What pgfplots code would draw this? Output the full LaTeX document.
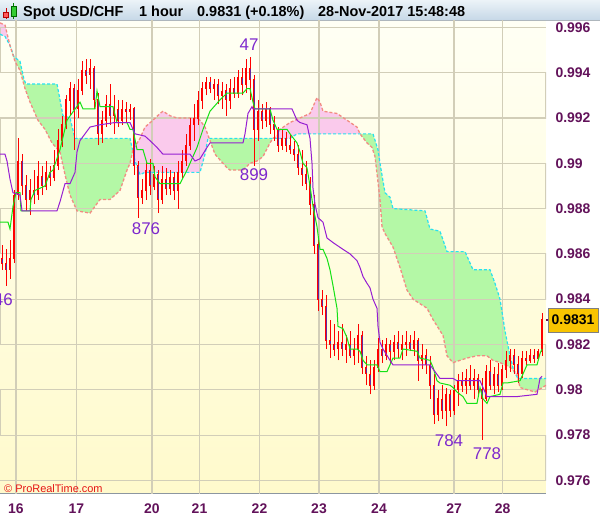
\documentclass[border=0pt]{standalone}
\usepackage{pgfplots}
\pgfplotsset{compat=1.18}
\usepackage{pgfplotstable}
\usepgfplotslibrary{fillbetween}
\usepackage{fontspec}
\setmainfont{Liberation Sans}
\definecolor{ticklab}{RGB}{98,18,90}
\definecolor{gridc}{RGB}{210,206,184}
\definecolor{bgtop}{RGB}{255,255,244}
\definecolor{bgbot}{RGB}{255,250,204}
\definecolor{cloudgreen}{RGB}{180,248,166}
\definecolor{cloudpink}{RGB}{250,202,236}
\definecolor{spanAc}{RGB}{40,225,240}
\definecolor{spanBc}{RGB}{242,140,130}
\definecolor{tenkan}{RGB}{20,225,20}
\definecolor{kijun}{RGB}{150,30,210}
\definecolor{bodyin}{RGB}{100,40,160}
\definecolor{annot}{RGB}{125,40,205}
\definecolor{framec}{RGB}{140,150,160}
\definecolor{titletop}{RGB}{236,243,248}
\definecolor{titlebot}{RGB}{198,216,231}
\definecolor{pricebox}{RGB}{248,196,0}
\definecolor{prtred}{RGB}{230,20,20}

\pgfplotstableread{
x o h l c
2 0.9858 0.9864 0.9853 0.9856
6 0.9856 0.9862 0.9846 0.9853
10 0.9853 0.9866 0.9849 0.9858
14 0.9858 0.9888 0.9856 0.9886
18 0.9886 0.9911 0.9884 0.9901
22 0.9901 0.9904 0.9886 0.9890
26 0.9890 0.9895 0.9879 0.9884
30 0.9884 0.9893 0.9877 0.9888
34 0.9888 0.9897 0.9882 0.9886
38 0.9886 0.9901 0.9884 0.9894
42 0.9894 0.9899 0.9886 0.9890
46 0.9890 0.9901 0.9888 0.9896
50 0.9896 0.9899 0.9890 0.9894
54 0.9894 0.9906 0.9892 0.9899
58 0.9899 0.9915 0.9897 0.9910
62 0.9910 0.9921 0.9907 0.9917
66 0.9917 0.9930 0.9915 0.9928
70 0.9928 0.9936 0.9921 0.9933
74 0.9933 0.9935 0.9906 0.9924
78 0.9924 0.9937 0.9920 0.9932
82 0.9932 0.9945 0.9930 0.9941
86 0.9941 0.9946 0.9935 0.9939
90 0.9939 0.9946 0.9933 0.9942
94 0.9942 0.9943 0.9924 0.9928
98 0.9928 0.9931 0.9908 0.9913
102 0.9913 0.9923 0.9909 0.9919
106 0.9919 0.9930 0.9916 0.9926
110 0.9926 0.9935 0.9917 0.9921
114 0.9921 0.9930 0.9913 0.9924
118 0.9924 0.9928 0.9916 0.9919
122 0.9919 0.9928 0.9917 0.9924
126 0.9924 0.9927 0.9918 0.9923
130 0.9923 0.9926 0.9919 0.9924
134 0.9924 0.9925 0.9895 0.9899
138 0.9899 0.9901 0.9876 0.9885
142 0.9885 0.9893 0.9882 0.9888
146 0.9888 0.9901 0.9884 0.9897
150 0.9897 0.9902 0.9886 0.9890
154 0.9890 0.9899 0.9888 0.9895
158 0.9895 0.9897 0.9878 0.9884
162 0.9884 0.9899 0.9882 0.9893
166 0.9893 0.9898 0.9886 0.9889
170 0.9889 0.9897 0.9886 0.9894
174 0.9894 0.9896 0.9884 0.9888
178 0.9888 0.9901 0.9880 0.9896
182 0.9896 0.9906 0.9893 0.9901
186 0.9901 0.9913 0.9899 0.9908
190 0.9908 0.9920 0.9906 0.9917
194 0.9917 0.9926 0.9910 0.9920
198 0.9920 0.9932 0.9917 0.9928
202 0.9928 0.9936 0.9924 0.9933
206 0.9933 0.9938 0.9930 0.9936
210 0.9936 0.9938 0.9931 0.9933
214 0.9933 0.9937 0.9928 0.9935
218 0.9935 0.9937 0.9926 0.9930
222 0.9930 0.9936 0.9924 0.9932
226 0.9932 0.9935 0.9921 0.9928
230 0.9928 0.9937 0.9924 0.9933
234 0.9933 0.9938 0.9929 0.9931
238 0.9931 0.9941 0.9929 0.9938
242 0.9938 0.9942 0.9930 0.9935
246 0.9935 0.9946 0.9931 0.9942
250 0.9942 0.9947 0.9928 0.9937
254 0.9937 0.9939 0.9899 0.9915
258 0.9915 0.9928 0.9910 0.9923
262 0.9923 0.9926 0.9915 0.9919
266 0.9919 0.9927 0.9916 0.9924
270 0.9924 0.9925 0.9913 0.9917
274 0.9917 0.9921 0.9910 0.9915
278 0.9915 0.9916 0.9905 0.9908
282 0.9908 0.9915 0.9906 0.9911
286 0.9911 0.9914 0.9905 0.9908
290 0.9908 0.9913 0.9904 0.9906
294 0.9906 0.9910 0.9901 0.9904
298 0.9904 0.9908 0.9895 0.9898
302 0.9898 0.9906 0.9890 0.9895
306 0.9895 0.9901 0.9888 0.9891
310 0.9891 0.9894 0.9877 0.9882
314 0.9882 0.9886 0.9860 0.9864
318 0.9864 0.9866 0.9835 0.9840
322 0.9840 0.9844 0.9833 0.9837
326 0.9837 0.9842 0.9818 0.9822
330 0.9822 0.9831 0.9814 0.9820
334 0.9820 0.9829 0.9815 0.9818
338 0.9818 0.9826 0.9813 0.9821
342 0.9821 0.9829 0.9815 0.9818
346 0.9818 0.9824 0.9812 0.9820
350 0.9820 0.9826 0.9814 0.9815
354 0.9815 0.9823 0.9811 0.9818
358 0.9818 0.9829 0.9812 0.9824
362 0.9824 0.9826 0.9807 0.9810
366 0.9810 0.9815 0.9802 0.9807
370 0.9807 0.9813 0.9798 0.9802
374 0.9802 0.9813 0.9800 0.9810
378 0.9810 0.9823 0.9808 0.9818
382 0.9818 0.9822 0.9812 0.9815
386 0.9815 0.9823 0.9813 0.9820
390 0.9820 0.9822 0.9812 0.9817
394 0.9817 0.9824 0.9813 0.9821
398 0.9821 0.9826 0.9814 0.9818
402 0.9818 0.9824 0.9813 0.9820
406 0.9820 0.9826 0.9815 0.9821
410 0.9821 0.9824 0.9817 0.9818
414 0.9818 0.9826 0.9815 0.9822
418 0.9822 0.9823 0.9804 0.9813
422 0.9813 0.9820 0.9809 0.9815
426 0.9815 0.9818 0.9807 0.9811
430 0.9811 0.9815 0.9796 0.9802
434 0.9802 0.9807 0.9785 0.9789
438 0.9789 0.9800 0.9786 0.9796
442 0.9796 0.9802 0.9787 0.9791
446 0.9791 0.9801 0.9784 0.9798
450 0.9798 0.9800 0.9788 0.9791
454 0.9791 0.9802 0.9789 0.9800
458 0.9800 0.9807 0.9793 0.9804
462 0.9804 0.9808 0.9799 0.9802
466 0.9802 0.9809 0.9798 0.9805
470 0.9805 0.9811 0.9800 0.9802
474 0.9802 0.9809 0.9796 0.9805
478 0.9805 0.9807 0.9798 0.9800
482 0.9800 0.9805 0.9778 0.9796
486 0.9796 0.9811 0.9795 0.9808
490 0.9808 0.9813 0.9800 0.9802
494 0.9802 0.9810 0.9798 0.9807
498 0.9807 0.9812 0.9799 0.9802
502 0.9802 0.9811 0.9800 0.9809
506 0.9809 0.9817 0.9805 0.9813
510 0.9813 0.9818 0.9808 0.9815
514 0.9815 0.9818 0.9807 0.9811
518 0.9811 0.9815 0.9803 0.9807
522 0.9807 0.9817 0.9805 0.9814
526 0.9814 0.9817 0.9811 0.9813
530 0.9813 0.9818 0.9812 0.9815
534 0.9815 0.9818 0.9812 0.9814
538 0.9814 0.9818 0.9813 0.9817
542 0.9817 0.9834 0.9815 0.9831
}\candles

\pgfplotstableread{
x y
0 0.9957
5 0.9956
10 0.9952
14 0.9947
20 0.9945
24 0.9937
26 0.9935
57 0.9935
60 0.9928
63 0.9921
70 0.9920
75 0.9911
130 0.9911
135 0.9901
140 0.9895
145 0.9896
200 0.9896
205 0.9904
208 0.9911
290 0.9911
297 0.9913
373 0.9913
378 0.9906
380 0.9900
385 0.9887
390 0.9885
393 0.9880
425 0.9879
430 0.9871
440 0.9870
447 0.9861
465 0.9861
473 0.9853
490 0.9853
495 0.9847
500 0.9840
505 0.9826
510 0.9815
514 0.9808
518 0.9805
546 0.9805
}\spanA

\pgfplotstableread{
x y
0 0.9962
5 0.9961
10 0.9952
15 0.9945
20 0.9941
25 0.9933
30 0.9927
38 0.9919
45 0.9915
52 0.9909
60 0.9905
65 0.9895
70 0.9886
77 0.9879
90 0.9878
100 0.9884
110 0.9884
120 0.9888
127 0.9897
130 0.9900
133 0.9906
140 0.9911
145 0.9916
153 0.9919
160 0.9922
163 0.9923
170 0.9921
177 0.9920
197 0.9920
200 0.9919
205 0.9916
210 0.9910
215 0.9904
223 0.9900
227 0.9898
230 0.9897
243 0.9897
250 0.9900
257 0.9901
263 0.9903
270 0.9909
273 0.9911
277 0.9912
280 0.9915
290 0.9918
300 0.9920
310 0.9922
313 0.9925
317 0.9929
320 0.9927
323 0.9923
337 0.9922
347 0.9919
357 0.9916
360 0.9913
367 0.9909
372 0.9907
375 0.9903
380 0.9884
382 0.9872
385 0.9869
393 0.9863
400 0.9854
407 0.9844
413 0.9840
427 0.9836
433 0.9831
443 0.9824
447 0.9815
453 0.9812
460 0.9813
467 0.9814
477 0.9815
487 0.9815
493 0.9813
500 0.9812
510 0.9810
517 0.9807
520 0.9801
535 0.9799
546 0.9802
}\spanB

\pgfplotstableread{
x y
0 0.9874
8 0.9874
10 0.9871
13 0.9881
16 0.9887
20 0.9887
21 0.9879
30 0.9879
31 0.9884
35 0.9888
45 0.9890
50 0.9896
53 0.9897
60 0.9906
67 0.9919
80 0.9927
83 0.9924
95 0.9924
97 0.9932
100 0.9925
113 0.9925
117 0.9918
127 0.9918
130 0.9915
133 0.9915
137 0.9906
143 0.9906
147 0.9900
153 0.9900
155 0.9894
160 0.9891
180 0.9891
187 0.9897
193 0.9903
197 0.9907
203 0.9915
210 0.9923
220 0.9928
227 0.9931
243 0.9931
247 0.9933
250 0.9933
253 0.9927
255 0.9924
270 0.9924
273 0.9919
277 0.9915
287 0.9915
290 0.9913
297 0.9909
300 0.9905
303 0.9900
307 0.9898
310 0.9890
313 0.9881
317 0.9872
320 0.9862
323 0.9862
327 0.9858
330 0.9853
333 0.9846
337 0.9836
338 0.9828
343 0.9827
347 0.9823
350 0.9818
357 0.9818
360 0.9817
363 0.9813
367 0.9811
377 0.9811
380 0.9808
387 0.9808
390 0.9811
393 0.9814
400 0.9814
403 0.9818
417 0.9817
420 0.9814
430 0.9813
433 0.9810
437 0.9804
440 0.9803
450 0.9802
453 0.9801
457 0.9799
460 0.9798
463 0.9797
467 0.9794
477 0.9794
480 0.9801
483 0.9796
487 0.9794
490 0.9797
500 0.9798
503 0.9803
507 0.9803
520 0.9804
523 0.9807
527 0.9811
537 0.9811
540 0.9816
542 0.9818
}\tenkansen

\pgfplotstableread{
x y
0 0.9904
5 0.9904
7 0.9901
10 0.9893
13 0.9887
20 0.9886
22 0.9879
57 0.9879
60 0.9883
65 0.9891
70 0.9891
75 0.9896
77 0.9905
80 0.9910
85 0.9913
90 0.9916
100 0.9917
115 0.9918
130 0.9918
135 0.9913
145 0.9912
150 0.9910
157 0.9907
163 0.9904
190 0.9904
195 0.9901
200 0.9902
207 0.9907
210 0.9909
243 0.9909
245 0.9913
248 0.9922
252 0.9925
253 0.9924
292 0.9924
297 0.9919
300 0.9918
307 0.9917
310 0.9911
312 0.9900
313 0.9889
315 0.9882
318 0.9876
323 0.9874
327 0.9867
333 0.9865
343 0.9862
350 0.9860
357 0.9857
360 0.9854
363 0.9850
367 0.9847
370 0.9845
373 0.9840
377 0.9836
378 0.9828
380 0.9821
383 0.9818
390 0.9813
393 0.9811
430 0.9811
440 0.9805
453 0.9805
457 0.9804
480 0.9804
487 0.9797
517 0.9797
537 0.9798
540 0.9805
542 0.9806
}\kijunsen

\begin{document}
\begin{tikzpicture}
\fill[white] (546bp,0bp) rectangle (600bp,499bp);
\fill[white] (0bp,0bp) rectangle (546bp,25bp);
\shade[top color=titletop, bottom color=titlebot] (0bp,499bp) rectangle (600bp,519bp);
\draw[framec!70, line width=0.6bp] (0bp,499bp) -- (600bp,499bp);
\begin{axis}[
  at={(0bp,25bp)}, anchor=south west, scale only axis,
  width=546bp, height=474bp,
  xmin=0, xmax=546, ymin=0.975399, ymax=0.996327,
  axis x line*=bottom, axis y line*=right,
  axis line style={framec, line width=1bp},
  axis background/.style={top color=bgtop, bottom color=bgbot},
  xtick={16,76.5,152,199.5,259.5,319,379,454,502.5},
  xticklabels={16,17,20,21,22,23,24,27,28},
  ytick={0.976,0.978,0.98,0.982,0.984,0.986,0.988,0.99,0.992,0.994,0.996},
  yticklabels={0.976,0.978,0.98,0.982,0.984,0.986,0.988,0.99,0.992,0.994,0.996},
  minor ytick={0.977,0.979,0.981,0.983,0.985,0.987,0.989,0.991,0.993,0.995},
  tick align=outside, major tick length=6bp, minor tick length=4bp,
  tick style={framec, line width=1bp},
  yticklabel style={font=\bfseries\fontsize{14}{16}\selectfont, text=ticklab, anchor=west},
  xticklabel style={font=\bfseries\fontsize{14}{16}\selectfont, text=ticklab},
]
% grid lines at the tick positions
\addplot[gridc, line width=1.1bp, forget plot, mark=none] coordinates {
  (0,0.976) (546,0.976)
  (546,0.978) (0,0.978)
  (0,0.980) (546,0.980)
  (546,0.982) (0,0.982)
  (0,0.984) (546,0.984)
  (546,0.986) (0,0.986)
  (0,0.988) (546,0.988)
  (546,0.990) (0,0.990)
  (0,0.992) (546,0.992)
  (546,0.994) (0,0.994)
  (0,0.996) (546,0.996)
};
\pgfplotsinvokeforeach{16,76.5,152,199.5,259.5,319,379,454,502.5}{
  \draw[gridc, line width=1.1bp] (axis cs:#1,0.975399) -- (axis cs:#1,0.996327);
}
% cloud boundaries (invisible, for filling)
\addplot[draw=none, name path=A, forget plot] table[x=x,y=y] {\spanA};
\addplot[draw=none, name path=B, forget plot] table[x=x,y=y] {\spanB};
\addplot[cloudpink, draw=none] fill between[of=A and B, soft clip={domain=0:10}];
\addplot[cloudgreen, draw=none] fill between[of=A and B, soft clip={domain=10:133}];
\addplot[cloudpink, draw=none] fill between[of=A and B, soft clip={domain=133:209}];
\addplot[cloudgreen, draw=none] fill between[of=A and B, soft clip={domain=209:273}];
\addplot[cloudpink, draw=none] fill between[of=A and B, soft clip={domain=273:360}];
\addplot[cloudgreen, draw=none] fill between[of=A and B, soft clip={domain=360:513}];
\addplot[cloudpink, draw=none] fill between[of=A and B, soft clip={domain=513:518}];
\addplot[cloudgreen, draw=none] fill between[of=A and B, soft clip={domain=518:546}];
% cloud edges
\addplot[spanAc, line width=1.2bp, dash pattern=on 3bp off 2bp, mark=none] table[x=x,y=y] {\spanA};
\addplot[spanBc, line width=1.3bp, dash pattern=on 3bp off 2bp, mark=none] table[x=x,y=y] {\spanB};
% wicks
\addplot[draw=none, mark=none, forget plot,
  error bars/.cd, y dir=plus, y explicit, error mark=none,
  error bar style={draw=red, line width=1bp}]
  table[x=x, y=l, y error expr={\thisrow{h}-\thisrow{l}}] {\candles};
% bodies
\addplot[draw=none, mark=none, forget plot,
  error bars/.cd, y dir=both, y explicit, error mark=none,
  error bar style={draw=red, line width=2.6bp}]
  table[x=x, y expr={(\thisrow{o}+\thisrow{c})/2}, y error expr={abs(\thisrow{o}-\thisrow{c})/2+0.00002}] {\candles};
% bearish body interiors
\addplot[draw=none, mark=none, forget plot,
  error bars/.cd, y dir=both, y explicit, error mark=none,
  error bar style={draw=bodyin, line width=1bp}]
  table[x=x, y expr={(\thisrow{o}+\thisrow{c})/2}, y error expr={max(0,(\thisrow{o}-\thisrow{c})/2-0.00002)}] {\candles};
% tenkan & kijun
\addplot[tenkan, line width=1bp, mark=none] table[x=x,y=y] {\tenkansen};
\addplot[kijun, line width=1bp, mark=none] table[x=x,y=y] {\kijunsen};
% annotations
\node[text=annot, font=\fontsize{17}{17}\selectfont] at (axis cs:249,0.99522) {47};
\node[text=annot, font=\fontsize{17}{17}\selectfont] at (axis cs:146,0.98710) {876};
\node[text=annot, font=\fontsize{17}{17}\selectfont] at (axis cs:254,0.98948) {899};
\node[text=annot, font=\fontsize{17}{17}\selectfont] at (axis cs:449,0.97774) {784};
\node[text=annot, font=\fontsize{17}{17}\selectfont] at (axis cs:487,0.97717) {778};
\node[text=annot, font=\fontsize{17}{17}\selectfont, anchor=east, inner sep=0pt] at (axis cs:13,0.98396) {846};
\end{axis}
% copyright
\node[anchor=west, text=prtred, font=\fontsize{11}{11}\selectfont, inner sep=0pt] at (4bp,30bp) {\textcopyright\ ProRealTime.com};
% price box
\draw[ticklab, line width=1.4bp] (546bp,199bp) -- (552bp,199bp);
\draw[draw=gray, fill=pricebox] (548bp,187bp) rectangle (598bp,211bp);
\node[font=\bfseries\fontsize{14}{14}\selectfont, text=black] at (573bp,199bp) {0.9831};
% title
\draw[red!80!black, line width=0.8bp] (6bp,500bp) -- (6bp,511bp);
\draw[fill=red!65, draw=red!70!black, line width=0.6bp] (3.5bp,502bp) rectangle (8.5bp,507bp);
\draw[green!50!black, line width=0.8bp] (13.5bp,500bp) -- (13.5bp,516bp);
\draw[fill=green!75!black!80, draw=green!40!black, line width=0.6bp] (11bp,503bp) rectangle (16bp,513bp);
\node[anchor=base west, inner sep=0pt, font=\bfseries\fontsize{14.5}{14.5}\selectfont] at (23bp,502.5bp) {Spot USD/CHF};
\node[anchor=base west, inner sep=0pt, font=\bfseries\fontsize{14.5}{14.5}\selectfont] at (139bp,502.5bp) {1 hour};
\node[anchor=base west, inner sep=0pt, font=\bfseries\fontsize{14.5}{14.5}\selectfont] at (197bp,502.5bp) {0.9831 (+0.18\%)};
\node[anchor=base west, inner sep=0pt, font=\bfseries\fontsize{14.5}{14.5}\selectfont] at (318bp,502.5bp) {28-Nov-2017 15:48:48};
\pgfresetboundingbox
\useasboundingbox (0bp,0bp) rectangle (600bp,519bp);
\end{tikzpicture}
\end{document}
